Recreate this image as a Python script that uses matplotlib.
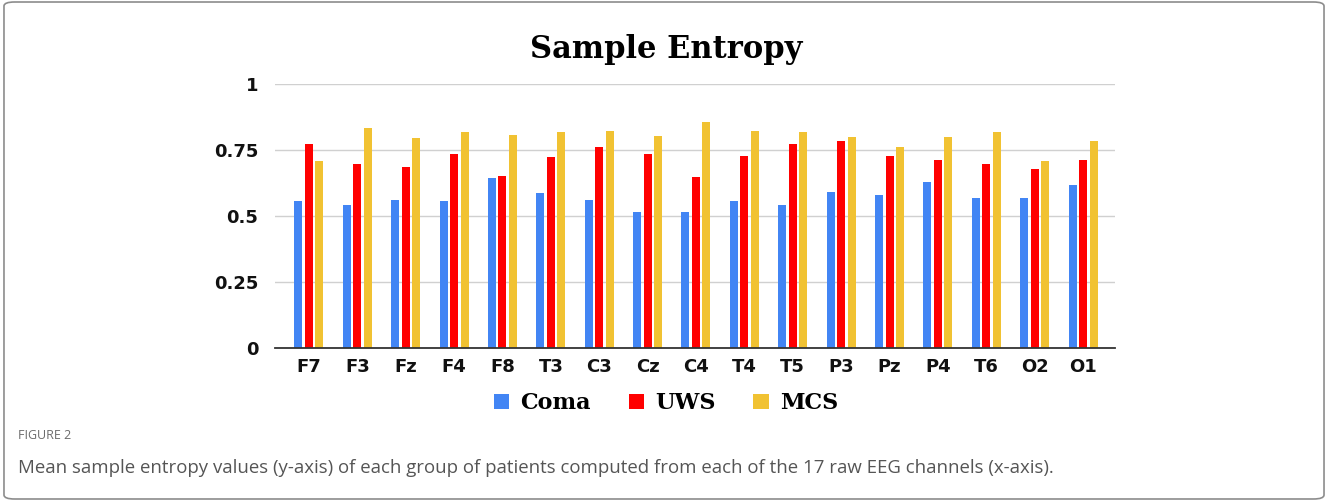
import numpy as np
import matplotlib.pyplot as plt
from matplotlib.patches import FancyBboxPatch

channels = ["F7", "F3", "Fz", "F4", "F8", "T3", "C3", "Cz", "C4",
            "T4", "T5", "P3", "Pz", "P4", "T6", "O2", "O1"]
coma = [0.556, 0.543, 0.561, 0.556, 0.643, 0.586, 0.561, 0.516, 0.516,
        0.556, 0.543, 0.591, 0.578, 0.630, 0.569, 0.569, 0.617]
uws = [0.773, 0.698, 0.687, 0.734, 0.653, 0.722, 0.760, 0.734, 0.648,
       0.726, 0.774, 0.783, 0.726, 0.713, 0.696, 0.678, 0.713]
mcs = [0.708, 0.835, 0.795, 0.817, 0.808, 0.817, 0.822, 0.804, 0.856,
       0.822, 0.817, 0.799, 0.760, 0.799, 0.817, 0.708, 0.783]
yticks = [0, 0.25, 0.5, 0.75, 1]
ytick_labels = ["0", "0.25", "0.5", "0.75", "1"]

colors = ["#4285f4", "#ff0000", "#f1c232"]
names = ["Coma", "UWS", "MCS"]

fig = plt.figure(figsize=(13.28, 5.01), dpi=100)

# outer frame
frame = FancyBboxPatch((0.003, 0.004), 0.994, 0.992,
                       boxstyle="round,pad=0,rounding_size=0.008",
                       transform=fig.transFigure, facecolor="white",
                       edgecolor="#8c8c8c", linewidth=1.2, zorder=-10)
fig.patches.append(frame)

ax = fig.add_axes([0.2071, 0.3054, 0.6325, 0.5269])
x = np.arange(len(channels))
w = 0.165
step = 0.217
for i, (vals, c, n) in enumerate(zip([coma, uws, mcs], colors, names)):
    ax.bar(x + (i - 1) * step, vals, width=w, color=c, label=n, zorder=3)

ax.set_xlim(-0.7, 16.66)
ax.set_ylim(0, 1.0)
ax.set_yticks(yticks)
ax.set_yticklabels(ytick_labels)
ax.set_xticks(x)
ax.set_xticklabels(channels)
for lab in ax.get_xticklabels() + ax.get_yticklabels():
    lab.set_fontfamily("DejaVu Sans")
    lab.set_fontweight("bold")
    lab.set_fontsize(13)
    lab.set_color("#111111")
ax.tick_params(axis="both", length=0)
ax.tick_params(axis="y", pad=12)
ax.tick_params(axis="x", pad=7)
ax.grid(axis="y", color="#d0d0d0", linewidth=1, zorder=0)
ax.set_axisbelow(True)
for s in ["top", "right", "left"]:
    ax.spines[s].set_visible(False)
ax.spines["bottom"].set_color("#333333")
ax.spines["bottom"].set_linewidth(1.3)
ax.spines["bottom"].set_zorder(4)

fig.text(0.5015, 0.902, "Sample Entropy", ha="center", va="center",
         fontsize=22, fontweight="bold", family="DejaVu Serif")

fig.legend(loc="center", bbox_to_anchor=(0.5015, 0.195), ncol=3, frameon=False,
           prop={"family": "DejaVu Serif", "weight": "bold", "size": 16},
           handlelength=0.7, handleheight=0.7, handletextpad=0.5,
           columnspacing=1.7)

fig.text(0.0136, 0.131, "FIGURE 2", ha="left", va="center", fontsize=9,
         color="#6b6b6b", family="Open Sans")
fig.text(0.0136, 0.066,
         "Mean sample entropy values (y-axis) of each group of patients computed "
         "from each of the 17 raw EEG channels (x-axis).",
         ha="left", va="center", fontsize=13.4, color="#555555",
         family="Open Sans")

plt.savefig("out.png", dpi=100)
plt.close()
